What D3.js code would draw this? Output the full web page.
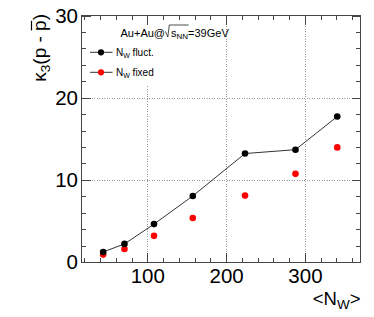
<!DOCTYPE html>
<html>
<head>
<meta charset="utf-8">
<script src="https://cdn.jsdelivr.net/npm/d3@7"></script>
<style>
body { margin: 0; background: #fff; }
text { font-family: "Liberation Sans", Arial, Helvetica, sans-serif; }
</style>
</head>
<body>
<div id="chart"></div>
<script>
// data
var nw = [44, 71, 108.5, 157.7, 224, 288, 341];
var fluct = [1.22, 2.2, 4.61, 8.04, 13.2, 13.67, 17.7];
var fixed = [0.9, 1.59, 3.18, 5.35, 8.08, 10.73, 13.95];
var xTicks = [100, 200, 300];
var yTicks = [0, 10, 20, 30];

var W = 374, H = 317;
// frame edges (window.top is reserved, so no "top" here)
var fL = 81.5, fR = 360.5, fT = 15.5, fB = 262;

var x = d3.scaleLinear().domain([16.5, 370.5]).range([fL, fR]);
var y = d3.scaleLinear().domain([0, 30]).range([fB, fT]);

var svg = d3.select("#chart").append("svg")
	.attr("width", W)
	.attr("height", H);

var frameCol = "#444";

// grid
var grid = svg.append("g")
	.attr("stroke", "#999")
	.attr("stroke-dasharray", "1,1.5")
	.attr("shape-rendering", "crispEdges");
grid.selectAll("line.gx")
	.data(xTicks)
	.enter().append("line")
	.attr("x1", function(d) { return Math.round(x(d)) + 0.5; })
	.attr("x2", function(d) { return Math.round(x(d)) + 0.5; })
	.attr("y1", fB)
	.attr("y2", fT);
grid.selectAll("line.gy")
	.data(yTicks.slice(1, 3))
	.enter().append("line")
	.attr("y1", function(d) { return Math.round(y(d)) + 0.5; })
	.attr("y2", function(d) { return Math.round(y(d)) + 0.5; })
	.attr("x1", fL)
	.attr("x2", fR);

// legend box (white, hides grid behind it)
svg.append("rect")
	.attr("x", 88).attr("y", fT + 1)
	.attr("width", 88).attr("height", 85 - fT - 1)
	.attr("fill", "#fff");

// axes, ticks pointing inward on all sides
var xMinor = d3.range(20, 371, 20).filter(function(d) { return d % 100 !== 0; });
var yMinor = d3.range(0, 30.1, 2).filter(function(d) { return d % 10 !== 0; });

function styleAxis(g) {
	g.select(".domain").remove();
	g.selectAll("line").attr("stroke", frameCol).attr("shape-rendering", "crispEdges");
	g.selectAll("text").attr("font-size", 20.5).attr("fill", "#000");
}

svg.append("g").attr("transform", "translate(0," + fB + ")")
	.call(d3.axisBottom(x).tickValues(xTicks).tickSize(-9).tickFormat(d3.format("d")))
	.call(styleAxis)
	.selectAll("text").attr("y", 21).attr("dy", 0);
svg.append("g").attr("transform", "translate(0," + fB + ")")
	.call(d3.axisBottom(x).tickValues(xMinor).tickSize(-4.5).tickFormat(""))
	.call(styleAxis);
svg.append("g").attr("transform", "translate(0," + fT + ")")
	.call(d3.axisTop(x).tickValues(xTicks).tickSize(-9).tickFormat(""))
	.call(styleAxis);
svg.append("g").attr("transform", "translate(0," + fT + ")")
	.call(d3.axisTop(x).tickValues(xMinor).tickSize(-4.5).tickFormat(""))
	.call(styleAxis);

svg.append("g").attr("transform", "translate(" + fL + ",0)")
	.call(d3.axisLeft(y).tickValues(yTicks).tickSize(-9).tickFormat(d3.format("d")))
	.call(styleAxis)
	.selectAll("text").attr("x", -3.5);
svg.append("g").attr("transform", "translate(" + fL + ",0)")
	.call(d3.axisLeft(y).tickValues(yMinor).tickSize(-4.5).tickFormat(""))
	.call(styleAxis);
svg.append("g").attr("transform", "translate(" + fR + ",0)")
	.call(d3.axisRight(y).tickValues(yTicks).tickSize(-9).tickFormat(""))
	.call(styleAxis);
svg.append("g").attr("transform", "translate(" + fR + ",0)")
	.call(d3.axisRight(y).tickValues(yMinor).tickSize(-4.5).tickFormat(""))
	.call(styleAxis);

// frame
svg.append("rect")
	.attr("x", fL).attr("y", fT)
	.attr("width", fR - fL).attr("height", fB - fT)
	.attr("fill", "none")
	.attr("stroke", frameCol)
	.attr("shape-rendering", "crispEdges");

// series
var pts = nw.map(function(d, i) { return {n: d, a: fluct[i], b: fixed[i]}; });

svg.append("path")
	.datum(pts)
	.attr("fill", "none")
	.attr("stroke", "#333")
	.attr("stroke-width", 1)
	.attr("d", d3.line().x(function(d) { return x(d.n); }).y(function(d) { return y(d.a); }));

svg.selectAll("circle.fix")
	.data(pts)
	.enter().append("circle")
	.attr("class", "fix")
	.attr("cx", function(d) { return x(d.n); })
	.attr("cy", function(d) { return y(d.b); })
	.attr("r", 3.3)
	.attr("fill", "#ff0000");

svg.selectAll("circle.fl")
	.data(pts)
	.enter().append("circle")
	.attr("class", "fl")
	.attr("cx", function(d) { return x(d.n); })
	.attr("cy", function(d) { return y(d.a); })
	.attr("r", 3.3)
	.attr("fill", "#000");

// legend
var legend = [{label: " fluct.", col: "#000", y: 52.3}, {label: " fixed", col: "#ff0000", y: 72.3}];
var lg = svg.selectAll("g.leg")
	.data(legend)
	.enter().append("g")
	.attr("transform", function(d) { return "translate(0," + d.y + ")"; });
lg.append("line")
	.attr("x1", 90).attr("x2", 112.5)
	.attr("stroke", "#333");
lg.append("circle")
	.attr("cx", 101).attr("r", 3.1)
	.attr("fill", function(d) { return d.col; });
var lt = lg.append("text")
	.attr("x", 116).attr("y", 3.6)
	.attr("font-size", 10);
lt.append("tspan").text("N");
lt.append("tspan").attr("font-size", 7).attr("dy", 2).text("W");
lt.append("tspan").attr("dy", -2).text(function(d) { return d.label; });

// title Au+Au@sqrt(s_NN)=39GeV
var base = 36.5;
var tt = svg.append("text")
	.attr("x", 120.5).attr("y", base)
	.attr("font-size", 11);
tt.append("tspan").text("Au+Au@");
tt.append("tspan").attr("dx", 6).text("s");
tt.append("tspan").attr("font-size", 8).attr("dy", 2.5).text("NN");
tt.append("tspan").attr("dy", -2.5).text("=39GeV");
var tn = tt.node();
var sx = tn.getStartPositionOfChar(6).x - 5.5;
var ex = tn.getEndPositionOfChar(8).x + 0.5;
svg.append("path")
	.attr("d", "M" + sx + "," + (base - 5) + "L" + (sx + 2.3) + "," + (base + 0.5) +
		"L" + (sx + 3.8) + "," + (base - 11.5) + "L" + ex + "," + (base - 11.5))
	.attr("fill", "none")
	.attr("stroke", "#222")
	.attr("stroke-width", 0.8);

// y title: kappa_3(p - pbar)
var yg = svg.append("g").attr("transform", "translate(46,14) rotate(-90)");
var yt = yg.append("text").attr("font-size", 19);
yt.append("tspan").text("κ");
yt.append("tspan").attr("font-size", 13.5).attr("dy", 4).text("3");
yt.append("tspan").attr("dy", -4).text("(p - p)");
var yn = yt.node();
var total = yn.getComputedTextLength();
yt.attr("x", -total);
var px0 = yn.getStartPositionOfChar(7).x, px1 = yn.getEndPositionOfChar(7).x;
yg.append("line")
	.attr("x1", px0 + 0.5).attr("x2", px1 - 0.5)
	.attr("y1", -14.5).attr("y2", -14.5)
	.attr("stroke", "#000").attr("stroke-width", 1.2);

// x title <N_W>
var xt = svg.append("text")
	.attr("x", fR).attr("y", 305)
	.attr("text-anchor", "end")
	.attr("font-size", 18.5);
xt.append("tspan").text("<N");
xt.append("tspan").attr("font-size", 13.5).attr("dy", 4).text("W");
xt.append("tspan").attr("dy", -4).text(">");
</script>
</body>
</html>
